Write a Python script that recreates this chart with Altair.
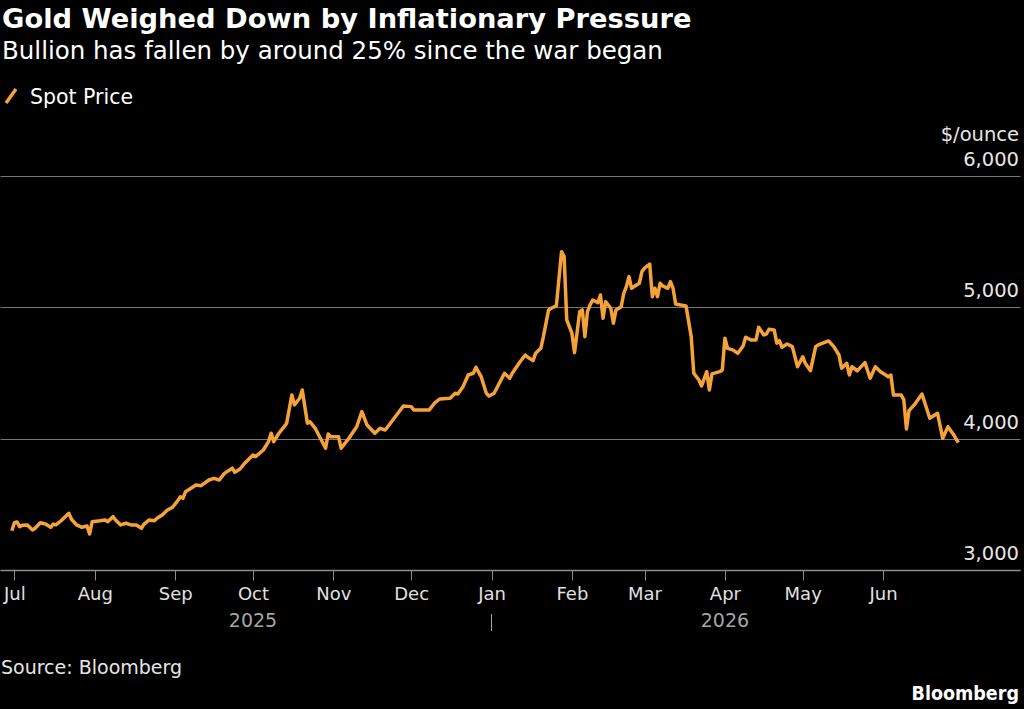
import altair as alt
import pandas as pd

TITLE = "Gold Weighed Down by Inflationary Pressure"
SUBTITLE = "Bullion has fallen by around 25% since the war began"
SERIES_NAME = "Spot Price"
UNIT = "$/ounce"
SOURCE = "Source: Bloomberg"
BRAND = "Bloomberg"

START = "2025-07-01"
# days since 2025-07-01
day_offsets = [
    -1, 0, 1, 2, 3, 5, 7, 8, 10, 12,
    14, 15, 16, 18, 21, 22, 24, 26, 28, 29,
    30, 33, 35, 36, 38, 39, 41, 43, 45, 47,
    49, 50, 52, 54, 55, 57, 59, 61, 63, 64,
    65, 66, 69, 70, 72, 75, 77, 79, 81, 84,
    85, 87, 89, 92, 93, 96, 98, 99, 100, 102,
    105, 107, 108, 110, 111, 113, 114, 116, 118, 120,
    121, 122, 125, 126, 128, 129, 132, 134, 136, 139,
    141, 143, 145, 150, 153, 154, 158, 160, 162, 164,
    168, 170, 171, 173, 175, 177, 178, 180, 182, 183,
    185, 189, 191, 192, 195, 197, 198, 200, 201, 203,
    204, 206, 207, 209, 211, 212, 213, 215, 216, 218,
    219, 220, 221, 222, 223, 225, 226, 227, 228, 229,
    230, 231, 232, 234, 235, 236, 237, 238, 239, 241,
    242, 243, 245, 246, 247, 248, 249, 250, 252, 253,
    254, 255, 257, 259, 261, 262, 264, 265, 267, 268,
    269, 272, 273, 274, 275, 277, 279, 281, 282, 284,
    286, 287, 289, 290, 291, 293, 294, 295, 296, 298,
    300, 302, 304, 305, 307, 309, 310, 314, 316, 318,
    319, 321, 322, 323, 325, 328, 330, 332, 334, 336,
    337, 338, 339, 342, 343, 344, 345, 347, 350, 353,
    356, 358, 360, 362, 364,
]
prices = [
    3299, 3360, 3366, 3330, 3340, 3343, 3305, 3318, 3360, 3350,
    3325, 3350, 3343, 3375, 3432, 3386, 3343, 3325, 3335, 3274,
    3368, 3375, 3381, 3368, 3406, 3381, 3343, 3356, 3343, 3343,
    3318, 3350, 3381, 3375, 3394, 3419, 3457, 3478, 3528, 3558,
    3546, 3596, 3634, 3647, 3642, 3685, 3698, 3685, 3736, 3775,
    3744, 3769, 3817, 3876, 3863, 3914, 3977, 4041, 3977, 4041,
    4117, 4333, 4257, 4308, 4371, 4117, 4129, 4079, 4003, 3927,
    4036, 4015, 4015, 3927, 3977, 4003, 4091, 4206, 4104, 4041,
    4079, 4066, 4117, 4249, 4244, 4219, 4219, 4219, 4270, 4302,
    4308, 4346, 4340, 4396, 4485, 4498, 4544, 4472, 4346, 4325,
    4346, 4498, 4460, 4498, 4586, 4637, 4620, 4594, 4650, 4688,
    4777, 4980, 4993, 5011, 5424, 5386, 4904, 4803, 4655, 4967,
    4980, 4777, 4967, 5018, 5056, 5036, 5094, 4917, 5043, 5018,
    4993, 4879, 4980, 5005, 5107, 5158, 5234, 5145, 5158, 5183,
    5272, 5298, 5330, 5081, 5145, 5081, 5183, 5163, 5145, 5196,
    5145, 5026, 5018, 5011, 4777, 4498, 4447, 4401, 4510, 4371,
    4493, 4510, 4523, 4765, 4688, 4676, 4650, 4706, 4772, 4752,
    4752, 4848, 4790, 4797, 4833, 4828, 4727, 4746, 4696, 4721,
    4701, 4548, 4624, 4574, 4518, 4701, 4714, 4744, 4701, 4637,
    4536, 4574, 4485, 4548, 4516, 4579, 4460, 4548, 4510, 4485,
    4472, 4485, 4333, 4333, 4295, 4074, 4213, 4257, 4340, 4155,
    4193, 4003, 4091, 4036, 3970,
]

y_ticks = [3000, 4000, 5000, 6000]
y_tick_labels = ["3,000", "4,000", "5,000", "6,000"]
month_ticks = [(2025, m) for m in range(7, 13)] + [(2026, m) for m in range(1, 7)]
year_labels = ["2025", "2026"]
year_label_dates = ["2025-10-01T00:00:00", "2026-04-01T00:00:00"]
year_divider_dates = ["2026-01-01T00:00:00"]

ORANGE = "#F6A23A"
FONT = "DejaVu Sans"
FONT_C = "DejaVu Sans Condensed"

dates = (pd.Timestamp(START) + pd.to_timedelta(day_offsets, unit="D")).strftime("%Y-%m-%dT00:00:00")
df = pd.DataFrame({"date": dates, "price": prices})

x_scale = alt.Scale(domain=[alt.DateTime(year=2025, month=6, date=25, hours=10, minutes=43),
                            alt.DateTime(year=2026, month=7, date=23, hours=19, minutes=12)])
y_scale = alt.Scale(domain=[3000, 6000], nice=False, zero=False)

x_axis = alt.Axis(values=[alt.DateTime(year=y, month=m, date=1) for y, m in month_ticks],
                  format="%b", labelFont=FONT, labelFontSize=18, labelColor="#e0e0e0",
                  tickColor="#8c8c8c", tickSize=10, tickWidth=1, domainColor="#8c8c8c",
                  domainWidth=1.5, labelPadding=5, grid=False, labelFlush=False, title=None)
y_axis = alt.Axis(values=y_ticks, labels=False, ticks=False, domain=False, grid=True,
                  gridColor="#777777", gridWidth=1, title=None)

line = alt.Chart(df).mark_line(color=ORANGE, strokeWidth=3.5, strokeJoin="round").encode(
    x=alt.X("date:T", scale=x_scale, title=None, axis=x_axis),
    y=alt.Y("price:Q", scale=y_scale, title=None, axis=y_axis),
)

ylab_df = pd.DataFrame({"price": y_ticks, "label": y_tick_labels})
ylabels = alt.Chart(ylab_df).mark_text(align="right", baseline="alphabetic", dy=-10, font=FONT,
                                       fontSize=19.5, color="#e6e6e6").encode(
    x=alt.value(1019), y=alt.Y("price:Q", scale=y_scale, title=None, axis=y_axis), text="label:N")

yr_df = pd.DataFrame({"date": year_label_dates, "label": year_labels})
yrlabels = alt.Chart(yr_df).mark_text(align="center", baseline="alphabetic", font=FONT,
                                      fontSize=19, color="#a6a6a6").encode(
    x=alt.X("date:T", scale=x_scale, title=None, axis=x_axis), y=alt.value(451), text="label:N")

div_df = pd.DataFrame({"date": year_divider_dates})
divider = alt.Chart(div_df).mark_rule(color="#a6a6a6", strokeWidth=1).encode(
    x=alt.X("date:T", scale=x_scale, title=None, axis=x_axis), y=alt.value(438), y2=alt.value(455))


def text_layer(txt, x, y, size, color="#ffffff", weight="normal", align="left", font=FONT):
    return alt.Chart(pd.DataFrame({"t": [txt]})).mark_text(
        align=align, baseline="alphabetic", font=font, fontSize=size, fontWeight=weight, color=color
    ).encode(x=alt.value(x), y=alt.value(y), text="t:N")


title = text_layer(TITLE, 2, -148, 27.3, weight="bold")
subtitle = text_layer(SUBTITLE, 2, -117, 24.5)
legend_text = text_layer(SERIES_NAME, 30, -72, 20.5)
legend_mark = alt.Chart(pd.DataFrame({"t": [SERIES_NAME]})).mark_rule(
    color=ORANGE, strokeWidth=3.5, strokeCap="butt").encode(
    x=alt.value(6), x2=alt.value(16), y=alt.value(-73), y2=alt.value(-87))
unit = text_layer(UNIT, 1019, -35, 19.5, color="#e6e6e6", align="right")
source = text_layer(SOURCE, 1, 498, 19, color="#e6e6e6")
brand = text_layer(BRAND, 1019, 524, 19.5, weight="bold", align="right", font=FONT_C)

chart = alt.layer(
    line, ylabels, yrlabels, divider, title, subtitle, legend_mark, legend_text, unit, source, brand
).properties(
    width=1020, height=394, autosize="none",
    padding={"left": 0, "top": 176, "right": 4, "bottom": 139},
    background="#000000",
).configure_view(stroke=None)

chart.save("out.html", embed_options={"renderer": "svg", "actions": False})
